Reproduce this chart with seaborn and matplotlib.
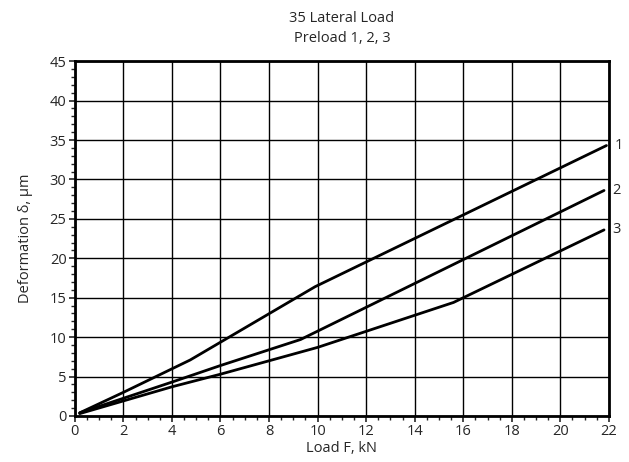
import numpy as np
import pandas as pd
import matplotlib
matplotlib.use("Agg")
import matplotlib.pyplot as plt
import seaborn as sns
from matplotlib.ticker import MultipleLocator

# Data
load_1 = [0.2, 2.0, 4.75, 9.9, 21.9]
defl_1 = [0.4, 3.0, 7.1, 16.4, 34.3]
load_2 = [0.2, 4.0, 6.0, 9.3, 21.8]
defl_2 = [0.4, 4.3, 6.4, 9.7, 28.6]
load_3 = [0.2, 4.0, 6.0, 8.0, 10.0, 15.6, 21.8]
defl_3 = [0.3, 3.7, 5.3, 7.0, 8.7, 14.4, 23.6]
curve_names = ["1", "2", "3"]

frames = []
for name, xs, ys in zip(curve_names, [load_1, load_2, load_3], [defl_1, defl_2, defl_3]):
    frames.append(pd.DataFrame({"load": xs, "defl": ys, "curve": name}))
df = pd.concat(frames, ignore_index=True)

sns.set_style("white")
plt.rcParams["font.family"] = ["Open Sans", "DejaVu Sans"]

fig = plt.figure(figsize=(6.29, 4.62), dpi=100)
ax = fig.add_axes([0.119, 0.0996, 0.849, 0.768])

sns.lineplot(data=df, x="load", y="defl", hue="curve", units="curve", estimator=None,
             palette={"1": "black", "2": "black", "3": "black"}, linewidth=2.0,
             legend=False, sort=False, ax=ax)

ax.set_xlim(0, 22)
ax.set_ylim(0, 45)
ax.xaxis.set_major_locator(MultipleLocator(2))
ax.xaxis.set_minor_locator(MultipleLocator(0.5))
ax.yaxis.set_major_locator(MultipleLocator(5))
ax.yaxis.set_minor_locator(MultipleLocator(1))
ax.grid(True, which="major", color="black", linewidth=1.0)
ax.tick_params(which="major", direction="out", length=4, width=1.2, labelsize=10.5, pad=2,
               bottom=True, left=True)
ax.tick_params(which="minor", direction="out", length=3, width=1.0, bottom=True, left=True)
for s in ax.spines.values():
    s.set_color("black")
    s.set_linewidth(2.0)

ax.set_xlabel("Load F, kN", fontsize=10.5, labelpad=1)
ax.set_ylabel("Deformation δ, µm", fontsize=10.5, labelpad=12)
ax.set_title("35 Lateral Load\nPreload 1, 2, 3", fontsize=10.5, pad=14, linespacing=1.45)

for name, xs, ys in zip(curve_names, [load_1, load_2, load_3], [defl_1, defl_2, defl_3]):
    ax.annotate(name, xy=(xs[-1], ys[-1]), xytext=(6, 0), textcoords="offset points",
                fontsize=10.5, ha="left", va="center", annotation_clip=False)

fig.savefig("out.png", dpi=100)
